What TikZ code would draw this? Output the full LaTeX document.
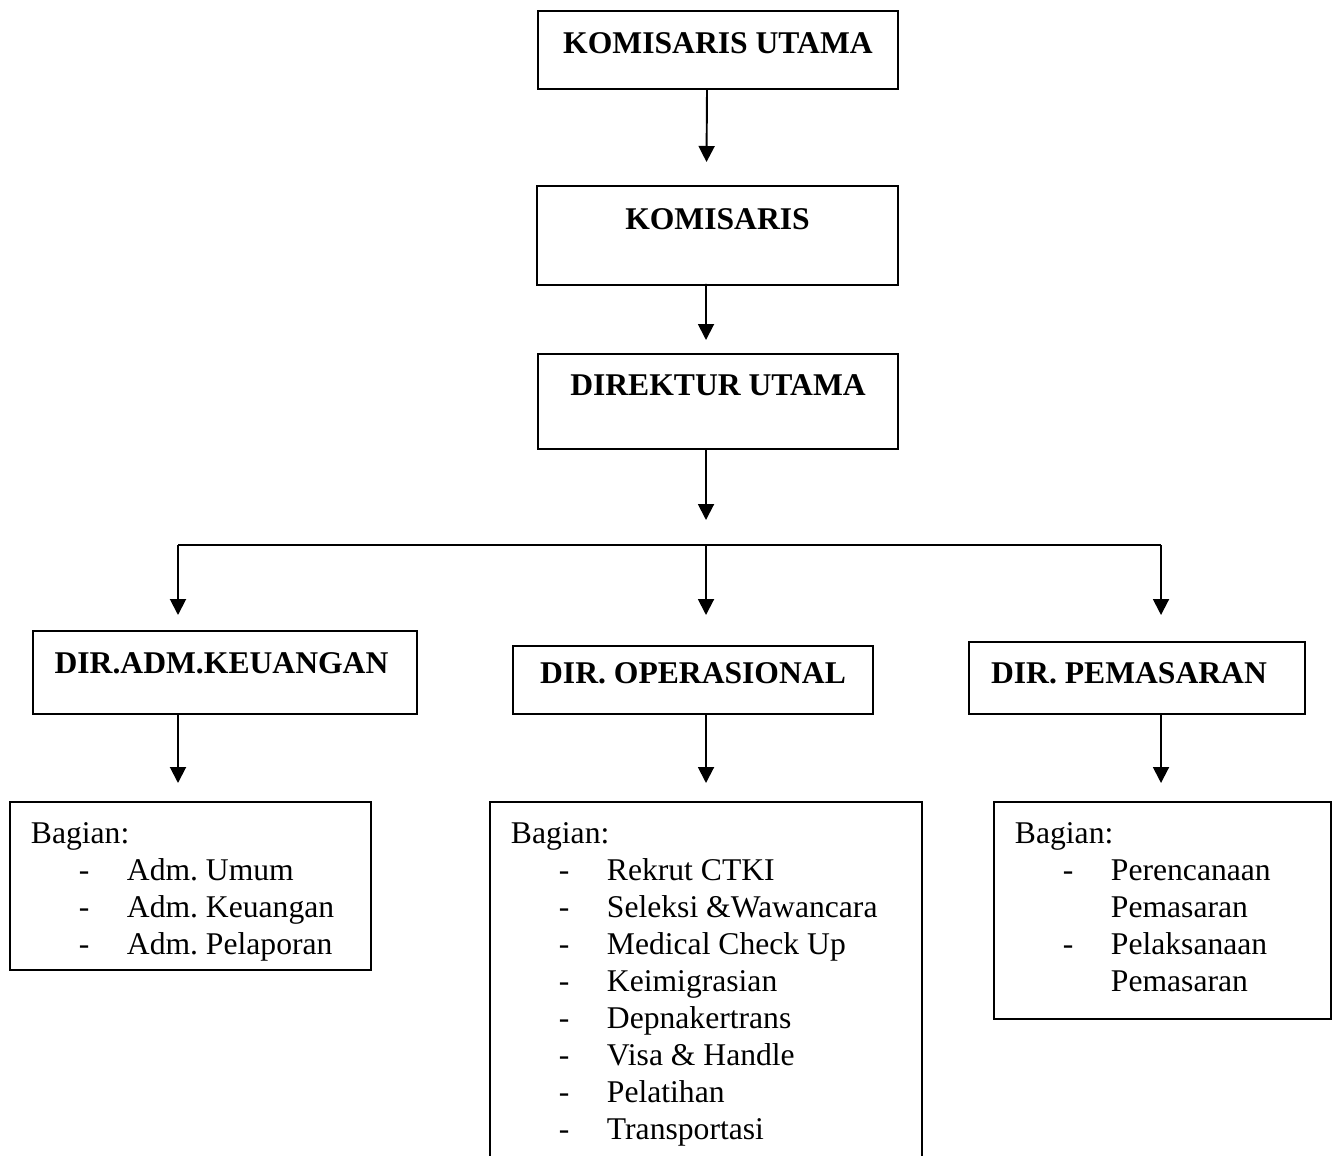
\documentclass[tikz,border=0pt]{standalone}
\usepackage{fontspec}
\setmainfont{Liberation Serif}
\usetikzlibrary{arrows.meta}
\frenchspacing
\newcommand{\itm}[1]{\hspace*{0.96cm}\makebox[0.96cm][l]{-}#1}
\newcommand{\lanjut}[1]{\hspace*{1.92cm}#1}
\begin{document}
\begin{tikzpicture}[x=0.02cm,y=-0.02cm,
    judul/.style={draw,line width=1.1pt,inner sep=0pt,anchor=north,font=\bfseries\fontsize{18}{21}\selectfont},
    bagian/.style={draw,line width=1.1pt,inner xsep=0.42cm,inner ysep=0pt,anchor=north west,font=\fontsize{18}{21}\selectfont},
    panah/.style={line width=1.1pt,-{Triangle[length=0.32cm,width=0.32cm]}}]
  \clip (0,0) rectangle (1337,1155);
  \fill[white] (0,0) rectangle (1337,1155);
  % pimpinan
  \node[judul,minimum width=7.2cm,text height=0.86cm,text depth=0.70cm] (ku) at (718,10) {KOMISARIS UTAMA};
  \node[judul,minimum width=7.22cm,text height=0.88cm,text depth=1.10cm] (kom) at (717.5,185) {KOMISARIS};
  \node[judul,minimum width=7.2cm,text height=0.84cm,text depth=1.06cm] (du) at (718,353) {DIREKTUR UTAMA};
  % direktur
  \node[judul,minimum width=7.68cm,text height=0.86cm,text depth=0.80cm] (dak) at (225,630) {DIR.ADM.KEUANGAN\hspace*{0.14cm}};
  \node[judul,minimum width=7.2cm,text height=0.76cm,text depth=0.60cm] (dop) at (693,645) {DIR. OPERASIONAL};
  \node[judul,minimum width=6.72cm,text height=0.84cm,text depth=0.60cm] (dpm) at (1137,641) {DIR. PEMASARAN\hspace*{0.32cm}};
  % bagian
  \node[bagian] (bga) at (9,801) {\parbox[c][3.36cm][t]{6.38cm}{\vspace*{0.42cm}Bagian:\\
      \itm{Adm. Umum}\\ \itm{Adm. Keuangan}\\ \itm{Adm. Pelaporan}}};
  \node[bagian] (bgo) at (489,801) {\parbox[c][7.38cm][t]{7.8cm}{\vspace*{0.42cm}Bagian:\\
      \itm{Rekrut CTKI}\\ \itm{Seleksi \&Wawancara}\\ \itm{Medical Check Up}\\ \itm{Keimigrasian}\\
      \itm{Depnakertrans}\\ \itm{Visa \& Handle}\\ \itm{Pelatihan}\\ \itm{Transportasi}}};
  \node[bagian] (bgp) at (993,801) {\parbox[c][4.34cm][t]{5.9cm}{\vspace*{0.42cm}Bagian:\\
      \itm{Perencanaan}\\ \lanjut{Pemasaran}\\ \itm{Pelaksanaan}\\ \lanjut{Pemasaran}}};
  % garis
  \coordinate (cab) at (706,545);
  \coordinate (kiri) at (178,545);
  \coordinate (kanan) at (1161,545);
  \draw[panah] ([xshift=-0.22cm]ku.south) -- ([xshift=-0.22cm,yshift=0.46cm]kom.north);
  \draw[panah] ([xshift=-0.23cm,yshift=0.04cm]kom.south) -- ([xshift=-0.24cm,yshift=0.26cm]du.north);
  \draw[panah] (du.south -| cab) -- ([yshift=0.5cm]cab);
  \draw[line width=1.1pt] (kiri) -- (kanan);
  \draw[panah] (kiri) -- ([yshift=0.3cm]dak.north -| kiri);
  \draw[panah] (cab) -- ([yshift=0.6cm]dop.north -| cab);
  \draw[panah] (kanan) -- ([yshift=0.52cm]dpm.north -| kanan);
  \draw[panah] (dak.south -| kiri) -- ([yshift=0.36cm]bga.north -| kiri);
  \draw[panah] (dop.south -| cab) -- ([yshift=0.36cm]bgo.north -| cab);
  \draw[panah] (dpm.south -| kanan) -- ([yshift=0.36cm]bgp.north -| kanan);
\end{tikzpicture}
\end{document}
